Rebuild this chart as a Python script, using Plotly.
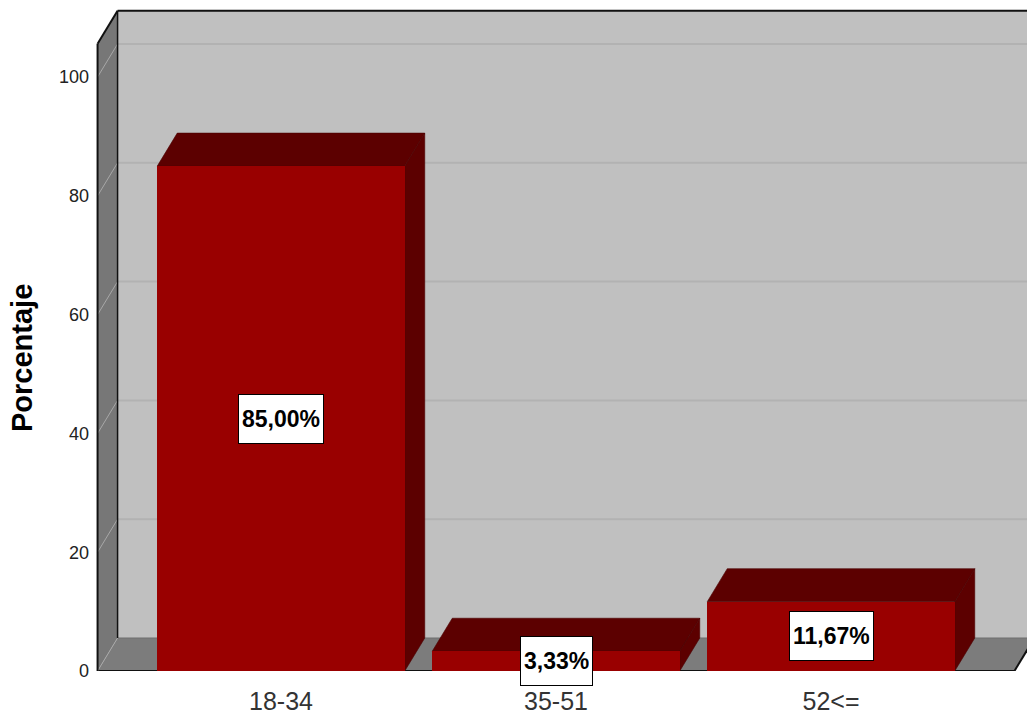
import plotly.graph_objects as go

# ---- data ----
categories = ["18-34", "35-51", "52<="]
percentages = [85.00, 3.33, 11.67]
y_tick_values = [0, 20, 40, 60, 80, 100]
y_title = "Porcentaje"

# ---- layout constants ----
W, H = 1027, 721
ML, MR, MT, MB = 90, 0, 5, 50
PX_X = 275.0          # pixels per category unit
PX_Y = 5.94           # pixels per percentage unit
plot_w = W - ML - MR
plot_h = H - MT - MB
x_lo_range = (ML - 281) / PX_X
x_range = [x_lo_range, x_lo_range + plot_w / PX_X]
y_range = [0, plot_h / PX_Y]

DX = 20 / PX_X        # depth offset (x units)
DY = 33 / PX_Y        # depth offset (y units)
WALL_TOP = 105.6
X_LO, X_HI = -0.667, 2.667
X_FAR = 3.2
BAR_W = 0.9

NARROW = "Liberation Sans Narrow, Arial Narrow, Liberation Sans, Arial, sans-serif"
SANS = "Liberation Sans, Arial, sans-serif"

FRONT = "#990000"
DARK = "#5c0000"
BACKWALL = "#c0c0c0"
FLOOR = "#7c7c7c"
LEFTWALL = "#777777"


def poly(pts, fill, line_color=None, line_width=0):
    d = "M " + " L ".join(f"{x},{y}" for x, y in pts) + " Z"
    return dict(type="path", path=d, xref="x", yref="y", layer="below",
                fillcolor=fill,
                line=dict(color=line_color or fill, width=line_width))


def seg(x0, y0, x1, y1, color, width):
    return dict(type="line", x0=x0, y0=y0, x1=x1, y1=y1, xref="x", yref="y",
                layer="below", line=dict(color=color, width=width))


shapes = []
# back wall
shapes.append(poly([(X_LO + DX, DY), (X_FAR, DY), (X_FAR, WALL_TOP + DY),
                    (X_LO + DX, WALL_TOP + DY)], BACKWALL))
# back wall gridlines
for v in y_tick_values:
    if v > 0:
        shapes.append(seg(X_LO + DX, v + DY, X_FAR, v + DY, "#b2b2b2", 2))
# floor
shapes.append(poly([(X_LO, 0), (X_HI, 0), (X_HI + DX, DY), (X_LO + DX, DY)], FLOOR))
shapes.append(seg(X_LO + DX, DY, X_FAR, DY, "#6e6e6e", 1))
shapes.append(seg(X_LO, 0, X_HI, 0, "#111111", 2))
shapes.append(seg(X_HI, 0, X_HI + DX, DY, "#111111", 2))
# left wall
shapes.append(poly([(X_LO, 0), (X_LO, WALL_TOP), (X_LO + DX, WALL_TOP + DY),
                    (X_LO + DX, DY)], LEFTWALL))
for v in y_tick_values:
    shapes.append(seg(X_LO, v, X_LO + DX, v + DY, "#a8a8a8", 1))
shapes.append(seg(X_LO, 0, X_LO, WALL_TOP, "#111111", 2))
shapes.append(seg(X_LO, WALL_TOP, X_LO + DX, WALL_TOP + DY, "#111111", 2))
shapes.append(seg(X_LO + DX, DY, X_LO + DX, WALL_TOP + DY, "#111111", 1.5))
shapes.append(seg(X_LO + DX, WALL_TOP + DY, X_FAR, WALL_TOP + DY, "#111111", 2))

# bar top and side faces
for i, v in enumerate(percentages):
    l, r = i - BAR_W / 2, i + BAR_W / 2
    shapes.append(poly([(l, v), (r, v), (r + DX, v + DY), (l + DX, v + DY)],
                       DARK, "#4a0000", 0.6))
    shapes.append(poly([(r, 0), (r, v), (r + DX, v + DY), (r + DX, DY)],
                       DARK, "#4a0000", 0.6))

fig = go.Figure()
fig.add_trace(go.Bar(
    x=list(range(len(categories))), y=percentages, width=BAR_W,
    marker=dict(color=FRONT, line=dict(width=0)),
    hoverinfo="skip", showlegend=False,
))

annotations = []
for i, v in enumerate(percentages):
    annotations.append(dict(
        x=i, y=v / 2, xref="x", yref="y",
        text=f"<b>{v:.2f}".replace(".", ",") + "%</b>",
        showarrow=False, xanchor="center", yanchor="middle",
        font=dict(family=NARROW, size=23, color="#000000"),
        bgcolor="#ffffff", bordercolor="#000000", borderwidth=1,
        borderpad=3, height=42,
    ))
annotations.append(dict(
    x=(22 - ML) / plot_w, y=(H - MB - 358) / plot_h,
    xref="paper", yref="paper", text=f"<b>{y_title}</b>",
    textangle=-90, showarrow=False, xanchor="center", yanchor="middle",
    font=dict(family=SANS, size=29, color="#000000"),
))

fig.update_layout(
    width=W, height=H,
    margin=dict(l=ML, r=MR, t=MT, b=MB),
    paper_bgcolor="#ffffff", plot_bgcolor="#ffffff",
    shapes=shapes, annotations=annotations,
    bargap=0, showlegend=False,
    xaxis=dict(range=x_range, tickvals=list(range(len(categories))),
               ticktext=categories, showgrid=False, zeroline=False,
               showline=False, ticks="", fixedrange=True,
               ticklabelstandoff=13,
               tickfont=dict(family=NARROW, size=25, color="#333333")),
    yaxis=dict(range=y_range, tickvals=y_tick_values,
               ticktext=[str(v) for v in y_tick_values],
               showgrid=False, zeroline=False, showline=False, ticks="",
               fixedrange=True,
               tickfont=dict(family=NARROW, size=18, color="#222222")),
)

fig.write_html("out.html",
               config={"displayModeBar": False},
               post_script="document.body.style.margin='0';"
                           "document.body.style.padding='0';")
